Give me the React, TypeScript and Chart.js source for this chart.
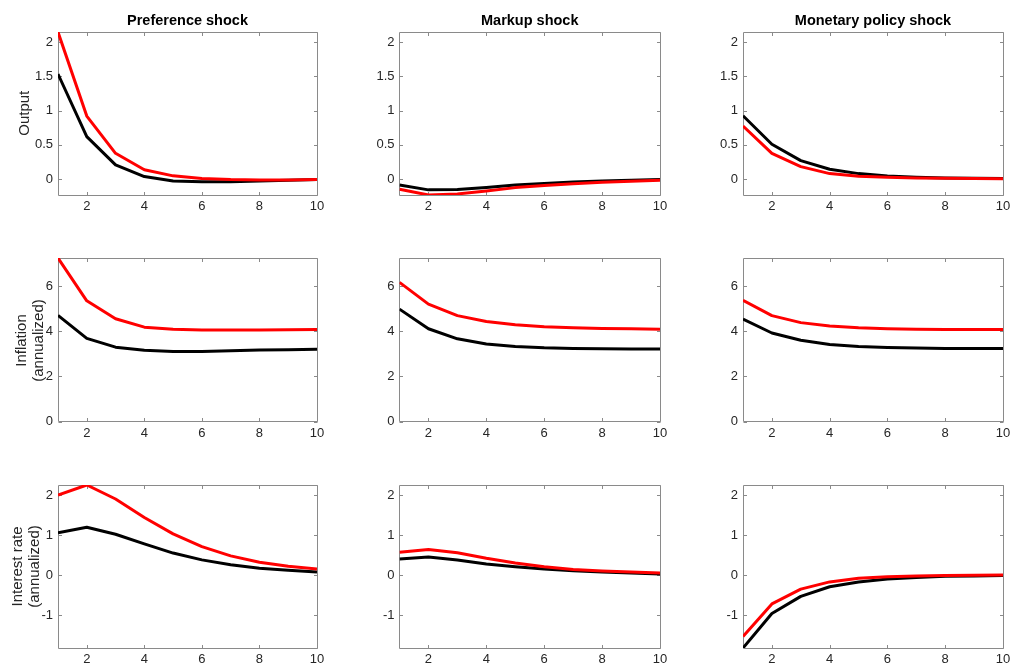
import React, { useEffect, useRef } from "react";
import { Chart, registerables } from "chart.js";

Chart.register(...registerables);

// ---------------- data ----------------
const periods = [1, 2, 3, 4, 5, 6, 7, 8, 9, 10];

const shockTitles = ["Preference shock", "Markup shock", "Monetary policy shock"];
const rowLabels = [["Output"], ["Inflation", "(annualized)"], ["Interest rate", "(annualized)"]];

// Output
const outPrefRed = [2.15, 0.92, 0.375, 0.135, 0.045, 0.005, -0.01, -0.015, -0.015, -0.01];
const outPrefBlack = [1.535, 0.62, 0.205, 0.035, -0.03, -0.04, -0.04, -0.03, -0.02, -0.01];
const outMarkRed = [-0.15, -0.235, -0.22, -0.175, -0.127, -0.095, -0.07, -0.05, -0.035, -0.02];
const outMarkBlack = [-0.09, -0.16, -0.155, -0.125, -0.09, -0.065, -0.045, -0.03, -0.018, -0.008];
const outMonRed = [0.775, 0.375, 0.18, 0.078, 0.04, 0.025, 0.015, 0.01, 0.005, 0.003];
const outMonBlack = [0.925, 0.507, 0.268, 0.142, 0.078, 0.044, 0.025, 0.015, 0.01, 0.005];

// Inflation (annualized)
const infPrefRed = [7.26, 5.36, 4.56, 4.19, 4.1, 4.06, 4.06, 4.06, 4.07, 4.08];
const infPrefBlack = [4.71, 3.69, 3.3, 3.16, 3.11, 3.11, 3.14, 3.17, 3.19, 3.21];
const infMarkRed = [6.18, 5.21, 4.7, 4.44, 4.3, 4.21, 4.16, 4.13, 4.12, 4.1];
const infMarkBlack = [4.99, 4.12, 3.67, 3.44, 3.33, 3.27, 3.24, 3.23, 3.22, 3.22];
const infMonRed = [5.38, 4.7, 4.39, 4.24, 4.16, 4.12, 4.1, 4.09, 4.09, 4.09];
const infMonBlack = [4.55, 3.93, 3.61, 3.42, 3.33, 3.29, 3.26, 3.24, 3.24, 3.24];

// Interest rate (annualized)
const ratePrefRed = [2.0, 2.25, 1.9, 1.44, 1.03, 0.71, 0.48, 0.32, 0.22, 0.15];
const ratePrefBlack = [1.06, 1.195, 1.02, 0.78, 0.55, 0.38, 0.26, 0.17, 0.12, 0.075];
const rateMarkRed = [0.57, 0.64, 0.56, 0.42, 0.3, 0.21, 0.14, 0.1, 0.075, 0.05];
const rateMarkBlack = [0.4, 0.45, 0.38, 0.28, 0.21, 0.15, 0.11, 0.075, 0.05, 0.03];
const rateMonRed = [-1.53, -0.72, -0.35, -0.17, -0.08, -0.04, -0.02, -0.01, -0.005, 0];
const rateMonBlack = [-1.82, -0.96, -0.53, -0.29, -0.17, -0.1, -0.06, -0.03, -0.02, -0.01];

const redSeries = [
  [outPrefRed, outMarkRed, outMonRed],
  [infPrefRed, infMarkRed, infMonRed],
  [ratePrefRed, rateMarkRed, rateMonRed],
];
const blackSeries = [
  [outPrefBlack, outMarkBlack, outMonBlack],
  [infPrefBlack, infMarkBlack, infMonBlack],
  [ratePrefBlack, rateMarkBlack, rateMonBlack],
];

const rowYMin = [-0.235, 0, -1.82];
const rowYMax = [2.15, 7.26, 2.25];
const rowYTicks = [
  [0, 0.5, 1, 1.5, 2],
  [0, 2, 4, 6],
  [-1, 0, 1, 2],
];
const xTicks = [2, 4, 6, 8, 10];

// ---------------- layout / style ----------------
const W = 1010;
const H = 663;
const CH = 700; // canvas height (clipped by container at H)
const COL_L = [58, 399.5, 743];
const COL_R = [317, 660, 1003];
const ROW_T = [32, 258, 485];
const ROW_B = [195, 421.5, 648];
const Y_W = 40;
const X_H = 24;
const LABEL_CX = [24.3, 29.2, 25.0];
const LABEL_CY = [113.5, 340, 566.5];

const FONT = '"Liberation Sans", Arial, Helvetica, sans-serif';
const TEXT_COLOR = "#262626";
const BOX_COLOR = "#8a8a8a";
const RED = "#ff0000";
const BLACK = "#000000";

const boxPlugin = {
  id: "matlabBox",
  beforeDatasetsDraw(chart: any) {
    const { ctx, chartArea: a, scales } = chart;
    const xs = scales.x;
    const ys = scales.y;
    const L = Math.floor(a.left) + 0.5;
    const R = Math.floor(a.right) + 0.5;
    const T = Math.floor(a.top) + 0.5;
    const B = Math.floor(a.bottom) + 0.5;
    const tl = 3.5;
    ctx.save();
    ctx.strokeStyle = BOX_COLOR;
    ctx.lineWidth = 1;
    ctx.beginPath();
    ctx.rect(L, T, R - L, B - T);
    ys.ticks.forEach((t: any) => {
      const py = Math.round(ys.getPixelForValue(t.value)) + 0.5;
      ctx.moveTo(L, py);
      ctx.lineTo(L + tl, py);
      ctx.moveTo(R, py);
      ctx.lineTo(R - tl, py);
    });
    xs.ticks.forEach((t: any) => {
      const px = Math.round(xs.getPixelForValue(t.value)) + 0.5;
      ctx.moveTo(px, B);
      ctx.lineTo(px, B - tl);
      ctx.moveTo(px, T);
      ctx.lineTo(px, T + tl);
    });
    ctx.stroke();
    ctx.restore();
  },
};

function Panel({ row, col }: { row: number; col: number }) {
  const ref = useRef<HTMLCanvasElement>(null);
  useEffect(() => {
    if (!ref.current) return;
    const mk = (vals: number[], color: string, order: number) => ({
      data: periods.map((x, i) => ({ x, y: vals[i] })),
      borderColor: color,
      backgroundColor: color,
      borderWidth: 3,
      pointRadius: 0,
      tension: 0,
      fill: false,
      order,
      clip: 0,
      borderJoinStyle: "round",
      borderCapStyle: "butt",
    });
    const tickFont = { family: FONT, size: 13 };
    const chart = new Chart(ref.current, {
      type: "line",
      data: {
        datasets: [
          mk(redSeries[row][col], RED, 1),
          mk(blackSeries[row][col], BLACK, 2),
        ] as any,
      },
      options: {
        responsive: false,
        animation: false,
        events: [],
        layout: {
          autoPadding: false,
          padding: {
            left: COL_L[col] - Y_W,
            right: W - COL_R[col],
            top: ROW_T[row],
            bottom: CH - ROW_B[row] - X_H,
          },
        },
        plugins: {
          legend: { display: false },
          tooltip: { enabled: false },
          title: { display: false },
        },
        scales: {
          x: {
            type: "linear",
            min: 1,
            max: 10,
            grid: { display: false, drawTicks: false },
            border: { display: false },
            ticks: {
              font: tickFont,
              color: TEXT_COLOR,
              padding: 4,
              maxRotation: 0,
              autoSkip: false,
              callback: (v: any) => String(v),
            },
            afterBuildTicks: (s: any) => {
              s.ticks = xTicks.map((v) => ({ value: v }));
            },
            afterFit: (s: any) => {
              s.height = X_H;
              s.paddingLeft = 0;
              s.paddingRight = 0;
            },
          },
          y: {
            type: "linear",
            min: rowYMin[row],
            max: rowYMax[row],
            grid: { display: false, drawTicks: false },
            border: { display: false },
            ticks: {
              font: tickFont,
              color: TEXT_COLOR,
              padding: 5,
              autoSkip: false,
              callback: (v: any) => String(v),
            },
            afterBuildTicks: (s: any) => {
              s.ticks = rowYTicks[row].map((v) => ({ value: v }));
            },
            afterFit: (s: any) => {
              s.width = Y_W;
              s.paddingTop = 0;
              s.paddingBottom = 0;
            },
          },
        },
      } as any,
      plugins: [boxPlugin],
    });
    return () => chart.destroy();
  }, [row, col]);
  return (
    <canvas
      ref={ref}
      width={W}
      height={CH}
      style={{ position: "absolute", left: 0, top: 0, width: W, height: CH }}
    />
  );
}

export default function App() {
  const panels: React.ReactNode[] = [];
  for (let r = 0; r < 3; r++) {
    for (let c = 0; c < 3; c++) {
      panels.push(<Panel key={`p${r}${c}`} row={r} col={c} />);
    }
  }
  return (
    <div
      style={{
        position: "fixed",
        left: 0,
        top: 0,
        width: W,
        height: H,
        overflow: "hidden",
        background: "#ffffff",
        fontFamily: FONT,
      }}
    >
      {panels}
      {shockTitles.map((t, c) => (
        <div
          key={`t${c}`}
          style={{
            position: "absolute",
            left: (COL_L[c] + COL_R[c]) / 2 - 150,
            top: 12,
            width: 300,
            height: 17,
            lineHeight: "17px",
            textAlign: "center",
            fontWeight: "bold",
            fontSize: 14.5,
            color: "#000",
            whiteSpace: "nowrap",
          }}
        >
          {t}
        </div>
      ))}
      {rowLabels.map((lines, r) => {
        const bh = lines.length * 16.5;
        return (
          <div
            key={`l${r}`}
            style={{
              position: "absolute",
              left: LABEL_CX[r] - 100,
              top: LABEL_CY[r] - bh / 2,
              width: 200,
              height: bh,
              lineHeight: "16.5px",
              fontSize: 15,
              textAlign: "center",
              color: TEXT_COLOR,
              transform: "rotate(-90deg)",
              transformOrigin: "50% 50%",
              whiteSpace: "nowrap",
            }}
          >
            {lines.map((ln, i) => (
              <div key={i}>{ln}</div>
            ))}
          </div>
        );
      })}
    </div>
  );
}
